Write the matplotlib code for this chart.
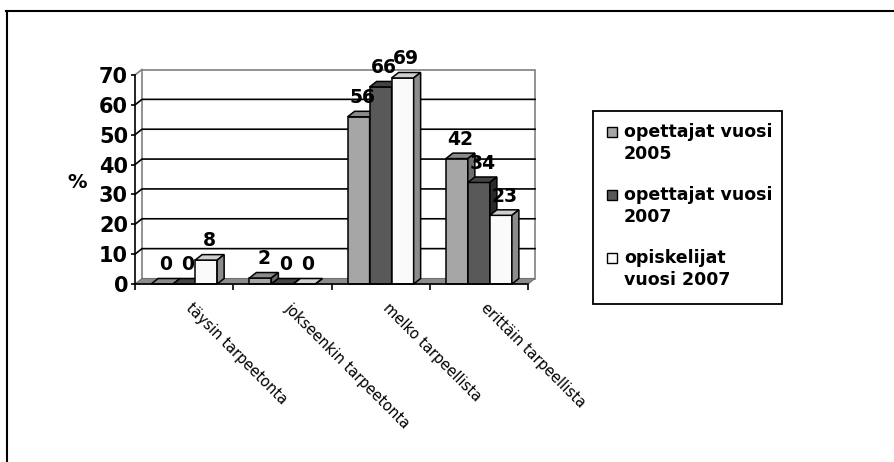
import matplotlib
matplotlib.use("Agg")
import matplotlib.pyplot as plt
from matplotlib.patches import Polygon, Rectangle
from matplotlib.lines import Line2D

categories = ["täysin tarpeetonta", "jokseenkin tarpeetonta",
              "melko tarpeellista", "erittäin tarpeellista"]
series_names = ["opettajat vuosi\n2005", "opettajat vuosi\n2007",
                "opiskelijat\nvuosi 2007"]
opettajat_2005 = [0, 2, 56, 42]
opettajat_2007 = [0, 0, 66, 34]
opiskelijat_2007 = [8, 0, 69, 23]
y_ticks = [0, 10, 20, 30, 40, 50, 60, 70]

series = [opettajat_2005, opettajat_2007, opiskelijat_2007]
front_col = ["#a6a6a6", "#595959", "#fafafa"]
top_col = ["#8a8a8a", "#444444", "#cfcfcf"]
side_col = ["#6c6c6c", "#2a2a2a", "#8c8c8c"]

W, H = 894, 462
fig = plt.figure(figsize=(W / 100, H / 100), dpi=100)
ax = fig.add_axes([135 / W, (H - 284) / H, 393 / W, 209 / H])
ax.set_xlim(0, len(categories))
ax.set_ylim(0, 70)
ax.patch.set_visible(False)

# 3d depth offset, in data units
dx = 7 * len(categories) / 393
dy = 5.5 * 70 / 209
n = len(categories)

# back wall + floor
wall = Polygon([(dx, dy), (n + dx, dy), (n + dx, 70 + dy), (dx, 70 + dy)],
               closed=True, facecolor="white", edgecolor="#808080", lw=1.2,
               zorder=1, clip_on=False)
ax.add_patch(wall)
ax.plot([0, dx], [70, 70 + dy], color="#808080", lw=1.2, zorder=1.2, clip_on=False)
for v in y_ticks[1:-1]:
    ax.plot([0, dx, n + dx], [v, v + dy, v + dy], color="black", lw=1.2,
            zorder=1.5, clip_on=False)
floor = Polygon([(0, 0), (n, 0), (n + dx, dy), (dx, dy)], closed=True,
                facecolor="#8c8c8c", edgecolor="#707070", lw=0.8, zorder=2,
                clip_on=False)
ax.add_patch(floor)

# bars
w = 0.224
start = (1 - 3 * w) / 2
for j, vals in enumerate(series):
    xs = [i + start + j * w for i in range(n)]
    for i, (x, v) in enumerate(zip(xs, vals)):
        z = 3 + i * 3 + j
        ax.bar(x, v, width=w, align="edge", color=front_col[j],
               edgecolor="black", lw=1.1, zorder=z, clip_on=False)
        top = Polygon([(x, v), (x + w, v), (x + w + dx, v + dy), (x + dx, v + dy)],
                      closed=True, facecolor=top_col[j], edgecolor="black",
                      lw=1.1, zorder=z, clip_on=False)
        side = Polygon([(x + w, 0), (x + w + dx, dy), (x + w + dx, v + dy), (x + w, v)],
                       closed=True, facecolor=side_col[j], edgecolor="black",
                       lw=1.1, zorder=z, clip_on=False)
        ax.add_patch(top)
        ax.add_patch(side)
        ax.annotate(str(v), xy=(x + w / 2 + dx / 2, v + dy), xytext=(0, 3),
                    textcoords="offset points", ha="center", va="bottom",
                    fontsize=13.5, fontweight="bold", zorder=30,
                    annotation_clip=False)

# axes styling
for s in ["top", "right"]:
    ax.spines[s].set_visible(False)
ax.spines["left"].set_linewidth(1.2)
ax.spines["bottom"].set_linewidth(1.2)
ax.spines["left"].set_zorder(25)
ax.spines["bottom"].set_zorder(25)
ax.set_yticks(y_ticks)
ax.set_yticklabels([str(t) for t in y_ticks], fontsize=15, fontweight="bold")
ax.tick_params(axis="y", length=3, width=1.2, pad=2)
ax.set_xticks(range(n + 1))
ax.set_xticklabels([])
ax.tick_params(axis="x", length=4.5, width=1.2)

for i, cat in enumerate(categories):
    ax.annotate(cat, xy=(i + 0.5, 0), xytext=(7, -12), textcoords="offset points",
                rotation=-45, rotation_mode="anchor", ha="left", va="top",
                fontsize=10.5, annotation_clip=False)

fig.text(77 / W, 1 - 182 / H, "%", ha="center", va="center", fontsize=14,
         fontweight="bold")

# legend box
fig.patches.append(Rectangle((593 / W, 1 - 304 / H), (782 - 593) / W, (304 - 111) / H,
                             transform=fig.transFigure, facecolor="white",
                             edgecolor="black", lw=1.3))
for k, name in enumerate(series_names):
    ytop = 127 + k * 63
    fig.patches.append(Rectangle((607 / W, 1 - (ytop + 10) / H), 10 / W, 10 / H,
                                 transform=fig.transFigure, facecolor=front_col[k],
                                 edgecolor="black", lw=1))
    fig.text(624 / W, 1 - (ytop - 4) / H, name, ha="left", va="top",
             fontsize=12.5, fontweight="bold", linespacing=1.3)

# outer frame (top and left edges visible)
fig.add_artist(Line2D([6 / W, 1], [1 - 11 / H, 1 - 11 / H], color="black", lw=1.5,
                      transform=fig.transFigure))
fig.add_artist(Line2D([6.5 / W, 6.5 / W], [0, 1 - 11 / H], color="black", lw=1.5,
                      transform=fig.transFigure))

fig.savefig("out.png", dpi=100)
